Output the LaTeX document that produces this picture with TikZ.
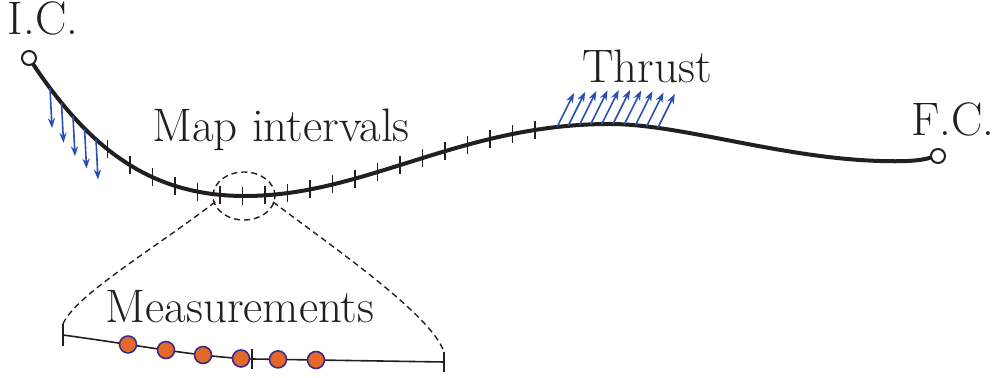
\documentclass[tikz,border=0pt]{standalone}
\usetikzlibrary{intersections,arrows.meta}
\definecolor{arrowblue}{HTML}{2B4FB0}
\definecolor{dotorange}{HTML}{E2692A}
\definecolor{dotedge}{HTML}{3D2B8C}
\definecolor{ink}{HTML}{231F20}
\begin{document}
\begin{tikzpicture}[x=0.5pt,y=-0.5pt,
  lbl/.style={font=\fontsize{23.5}{28}\selectfont, text=ink, anchor=base, inner sep=0pt},
  mainline/.style={line width=2pt, draw=ink},
  tickmark/.style={line width=0.8pt, draw=ink},
  endpt/.style={circle, draw=ink, fill=white, line width=1pt, minimum size=7pt, inner sep=0pt},
  force/.style={draw=arrowblue, line width=0.8pt, -{Stealth[length=5pt,width=3.6pt,fill=arrowblue]}},
  zoomline/.style={draw=ink, line width=0.7pt, dash pattern=on 3pt off 2pt},
  sample/.style={circle, draw=dotedge, fill=dotorange, line width=0.8pt, minimum size=8.5pt, inner sep=0pt},
  detailline/.style={draw=ink, line width=0.8pt},
]
\useasboundingbox (0,0) rectangle (995,378);

% main trajectory
\draw[mainline, name path=curve] (33,64) .. controls (93,154) and (155,196) .. (245,196)
  .. controls (365,196) and (460,124) .. (610,124)
  .. controls (680,124) and (780,158) .. (880,161)
  .. controls (910,162) and (925,160) .. (932,157);

% interval ticks
\foreach \tx [count=\i] in {107.5,130,...,536} {
  \path[name path=vline\i] (\tx,0) -- (\tx,378);
  \path[name intersections={of=curve and vline\i, by={t\i}}];
  \draw[tickmark] (t\i) ++(0,-9) -- ++(0,18);
}

% downward forces near start
\foreach \tx [count=\i] in {50,61.5,...,97} {
  \path[name path=dline\i] (\tx,0) -- (\tx,378);
  \path[name intersections={of=curve and dline\i, by={d\i}}];
  \draw[force] (d\i) -- ++(2,40);
}

% thrust arrows
\foreach \tx [count=\i] in {557,568.2,...,659} {
  \path[name path=uline\i] (\tx,0) -- (\tx,378);
  \path[name intersections={of=curve and uline\i, by={u\i}}];
  \draw[force] (u\i) -- ++(17,-34);
}

% end points
\node[endpt] (ic) at (29,58) {};
\node[endpt] (fc) at (938,156) {};

% zoom ellipse
\node[draw=none, inner sep=0pt] (zc) at (244,196) {};
\draw[zoomline] (zc) ellipse [x radius=15.5pt, y radius=12pt];

% detail line
\coordinate (bl) at (63,335);
\coordinate (bm) at (252,359);
\coordinate (br) at (444,362);
\draw[detailline, name path=detail] (bl) .. controls (150,347) and (200,357) .. (bm) -- (br);
\draw[tickmark] (bl) ++(0,-11) -- ++(0,22);
\draw[tickmark] (bm) ++(0,-10) -- ++(0,20);
\draw[tickmark] (br) ++(0,-10) -- ++(0,20);

% dashed connectors
\coordinate (zl) at (215,202);
\coordinate (zr) at (273,202);
\coordinate (bltop) at (63,324);
\coordinate (brtop) at (444,352);
\draw[zoomline] (zl) .. controls (160,245) and (75,295) .. (bltop);
\draw[zoomline] (zr) .. controls (330,245) and (432,315) .. (brtop);

% measurement dots
\foreach \tx [count=\i] in {128,166,203,241,278,316} {
  \path[name path=mline\i] (\tx,0) -- (\tx,378);
  \path[name intersections={of=detail and mline\i, by={m\i}}];
  \node[sample] (s\i) at (m\i) {};
}

% labels
\node[lbl] (lic) at (43,35) {I.C.};
\node[lbl] (lfc) at (953,136) {F.C.};
\node[lbl] (lmap) at (281,142) {Map intervals};
\node[lbl] (lthr) at (647,83) {Thrust};
\node[lbl] (lmeas) at (240,323) {Measurements};
\end{tikzpicture}
\end{document}
